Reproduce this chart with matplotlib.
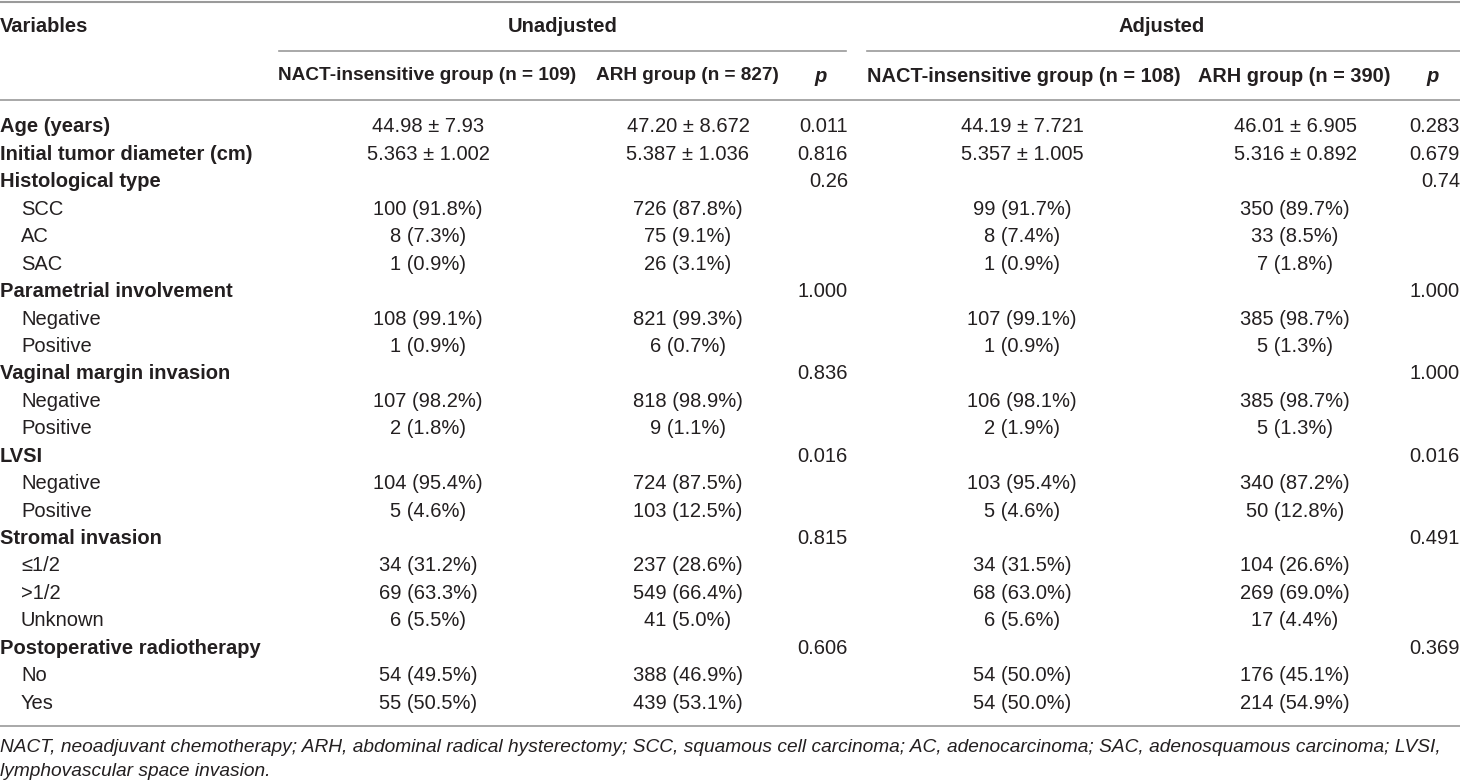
from matplotlib import pyplot as plt

# table content
labels = ["Age (years)", "Initial tumor diameter (cm)", "Histological type", "SCC", "AC", "SAC",
          "Parametrial involvement", "Negative", "Positive", "Vaginal margin invasion", "Negative",
          "Positive", "LVSI", "Negative", "Positive", "Stromal invasion", "\u22641/2", ">1/2", "Unknown",
          "Postoperative radiotherapy", "No", "Yes"]
bold_rows = [0, 1, 2, 6, 9, 12, 15, 19]

unadj_nact = ["44.98 \u00b1 7.93", "5.363 \u00b1 1.002", "", "100 (91.8%)", "8 (7.3%)", "1 (0.9%)", "",
              "108 (99.1%)", "1 (0.9%)", "", "107 (98.2%)", "2 (1.8%)", "", "104 (95.4%)", "5 (4.6%)", "",
              "34 (31.2%)", "69 (63.3%)", "6 (5.5%)", "", "54 (49.5%)", "55 (50.5%)"]
unadj_arh = ["47.20 \u00b1 8.672", "5.387 \u00b1 1.036", "", "726 (87.8%)", "75 (9.1%)", "26 (3.1%)", "",
             "821 (99.3%)", "6 (0.7%)", "", "818 (98.9%)", "9 (1.1%)", "", "724 (87.5%)", "103 (12.5%)", "",
             "237 (28.6%)", "549 (66.4%)", "41 (5.0%)", "", "388 (46.9%)", "439 (53.1%)"]
unadj_p = ["0.011", "0.816", "0.26", "", "", "", "1.000", "", "", "0.836", "", "", "0.016", "", "",
           "0.815", "", "", "", "0.606", "", ""]
adj_nact = ["44.19 \u00b1 7.721", "5.357 \u00b1 1.005", "", "99 (91.7%)", "8 (7.4%)", "1 (0.9%)", "",
            "107 (99.1%)", "1 (0.9%)", "", "106 (98.1%)", "2 (1.9%)", "", "103 (95.4%)", "5 (4.6%)", "",
            "34 (31.5%)", "68 (63.0%)", "6 (5.6%)", "", "54 (50.0%)", "54 (50.0%)"]
adj_arh = ["46.01 \u00b1 6.905", "5.316 \u00b1 0.892", "", "350 (89.7%)", "33 (8.5%)", "7 (1.8%)", "",
           "385 (98.7%)", "5 (1.3%)", "", "385 (98.7%)", "5 (1.3%)", "", "340 (87.2%)", "50 (12.8%)", "",
           "104 (26.6%)", "269 (69.0%)", "17 (4.4%)", "", "176 (45.1%)", "214 (54.9%)"]
adj_p = ["0.283", "0.679", "0.74", "", "", "", "1.000", "", "", "1.000", "", "", "0.016", "", "",
         "0.491", "", "", "", "0.369", "", ""]

group_heads = ["Unadjusted", "Adjusted"]
col_heads = ["NACT-insensitive group (n = 109)", "ARH group (n = 827)", "p",
             "NACT-insensitive group (n = 108)", "ARH group (n = 390)", "p"]
footnote = ["NACT, neoadjuvant chemotherapy; ARH, abdominal radical hysterectomy; SCC, squamous cell carcinoma; "
            "AC, adenocarcinoma; SAC, adenosquamous carcinoma; LVSI,",
            "lymphovascular space invasion."]

plt.rcParams['font.family'] = ['Liberation Sans', 'DejaVu Sans']
txt = '#231f20'
grey = '#9a9a9a'
fs = 14.5

fig = plt.figure(figsize=(14.6, 7.83), dpi=100)
ax = fig.add_axes([0, 0, 1, 1])
ax.set_xlim(0, 1460)
ax.set_ylim(783, 0)
ax.axis('off')

# rules
ax.plot([0, 1460], [2, 2], color=grey, lw=1.5)
ax.plot([279, 846], [51, 51], color=grey, lw=1.2)
ax.plot([867, 1460], [51, 51], color=grey, lw=1.2)
ax.plot([0, 1460], [100, 100], color=grey, lw=1.2)
ax.plot([0, 1460], [726, 726], color=grey, lw=1.2)

# headers
ax.text(0, 27, "Variables", fontsize=fs, fontweight='bold', color=txt, va='center', ha='left')
ax.text(563, 27, group_heads[0], fontsize=fs, fontweight='bold', color=txt, va='center', ha='center')
ax.text(1162, 27, group_heads[1], fontsize=fs, fontweight='bold', color=txt, va='center', ha='center')

head_x = [427.5, 687.5, 821, 1024, 1294.5, 1433]
head_fs = [13.65, 13.65, 14.5, 14.4, 14.3, 14.5]
for i, h in enumerate(col_heads):
    style = 'italic' if h == 'p' else 'normal'
    ax.text(head_x[i], 76, h, fontsize=head_fs[i], fontweight='bold', fontstyle=style, color=txt,
            va='center', ha='center')

# body
y0, dy = 127, 27.43
cols = [unadj_nact, unadj_arh, unadj_p, adj_nact, adj_arh, adj_p]
col_x = [428, 688, 848, 1022, 1295, 1460]
aligns = ['center', 'center', 'right', 'center', 'center', 'right']
for r, lab in enumerate(labels):
    y = y0 + r * dy
    if r in bold_rows:
        ax.text(0, y, lab, fontsize=fs, fontweight='bold', color=txt, va='center', ha='left')
    else:
        ax.text(21, y, lab, fontsize=fs, color=txt, va='center', ha='left')
    for c, col in enumerate(cols):
        if col[r]:
            ax.text(col_x[c], y, col[r], fontsize=fs, color=txt, va='center', ha=aligns[c])

# footnote
ax.text(0, 748, footnote[0], fontsize=13.75, fontstyle='italic', color=txt, va='center', ha='left')
ax.text(0, 771, footnote[1], fontsize=13.75, fontstyle='italic', color=txt, va='center', ha='left')

fig.savefig('out.png', dpi=100)
